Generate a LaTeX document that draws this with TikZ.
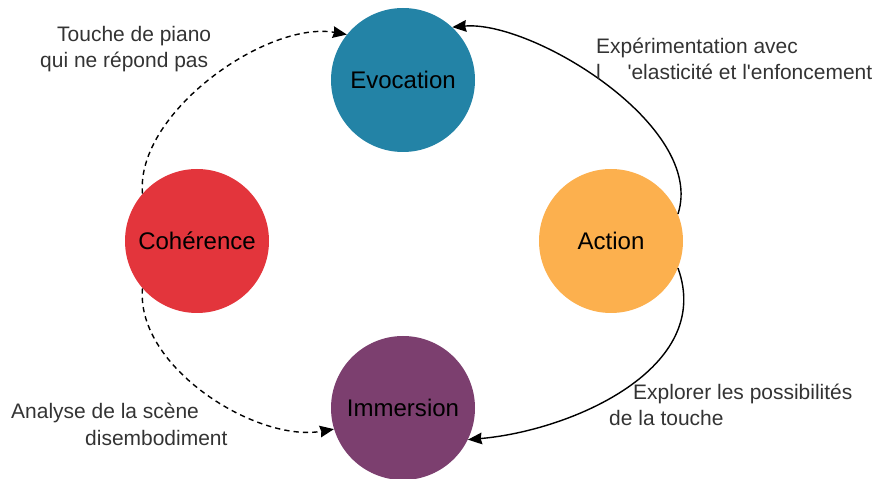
\documentclass[tikz,border=0pt]{standalone}
\usepackage{fontspec}
\setmainfont{Liberation Sans}
\usetikzlibrary{arrows.meta}

\definecolor{evocblue}{HTML}{2383A6}
\definecolor{actorange}{HTML}{FCB04E}
\definecolor{cohred}{HTML}{E3353C}
\definecolor{immpurple}{HTML}{7C3F6F}

\begin{document}
\begin{tikzpicture}[
  phase/.style = {circle, minimum size=4.32cm, inner sep=0pt,
    font=\fontsize{20.5}{24}\selectfont},
  note/.style = {anchor=west, align=left, inner sep=0pt, text=black!80,
    font=\fontsize{17.9}{22.5}\selectfont},
  link/.style = {line width=1.2pt, -{Stealth[length=4.2mm, width=3.5mm, inset=1pt]}},
  weak/.style = {link, dash pattern=on 4.5pt off 3.5pt}
]
\useasboundingbox (0,0) rectangle (26.46,14.37);

% the four phases
\node[phase, fill=evocblue] (evoc) at (12.09,11.97) {Evocation};
\node[phase, fill=actorange] (act) at (18.33,7.14) {Action};
\node[phase, fill=cohred] (coh) at (5.91,7.14) {Cohérence};
\node[phase, fill=immpurple] (imm) at (12.09,2.13) {Immersion};

% transitions
\draw[link] (act.22) to[out=72, in=5, out looseness=0.8, in looseness=0.7] (evoc.47);
\draw[link] (act.-22) to[out=-70, in=5, looseness=1] (imm.-26);
\draw[weak] (coh.139) to[out=95, in=170, looseness=0.8] (evoc.141);
\draw[weak] (coh.-139) to[out=-95, in=-170, looseness=0.85] (imm.-163);

% labels
\node[note] (lbl-piano) at (1.2,12.9)
  {\hspace*{0.51cm}Touche de piano\\qui ne répond pas};
\node[note] (lbl-exp) at (17.88,12.6)
  {Expérimentation avec\\l\hspace{0.8cm}\textquotesingle elasticité et l\textquotesingle enfoncement};
\node[note] (lbl-expl) at (18.27,2.22)
  {\hspace*{0.72cm}Explorer les possibilités\\de la touche};
\node[note] (lbl-scene) at (0.33,1.64)
  {Analyse de la scène\\\hspace*{2.22cm}disembodiment};
\end{tikzpicture}
\end{document}
